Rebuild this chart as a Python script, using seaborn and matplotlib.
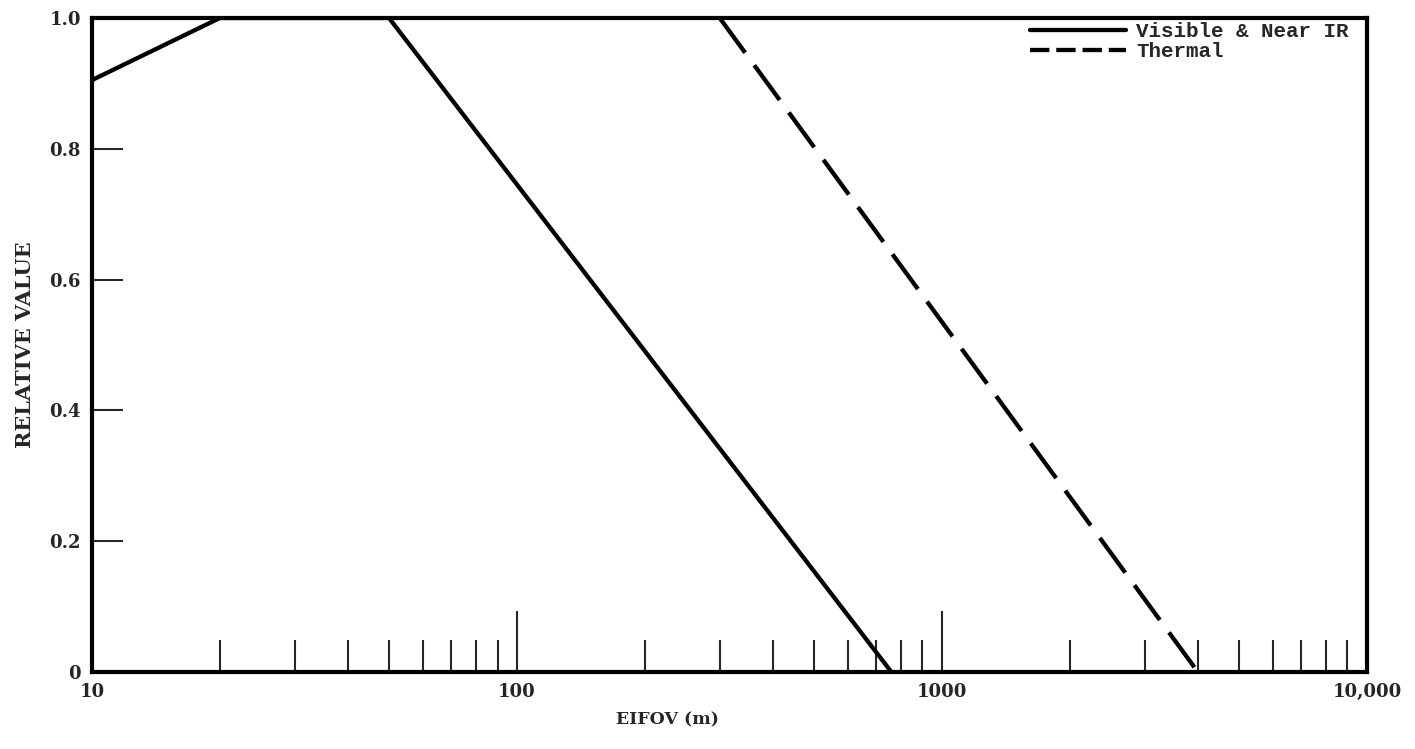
import numpy as np
import pandas as pd
import matplotlib
matplotlib.use("Agg")
import matplotlib.pyplot as plt
import seaborn as sns
from matplotlib.ticker import LogLocator, FixedLocator, NullFormatter

# Datos
vis_x = [10, 20, 50, 760]
vis_y = [0.905, 1.0, 1.0, 0.0]
th_x = [300, 4000]
th_y = [1.0, 0.0]

x_ticks = [10, 100, 1000, 10000]
x_labels = ['10', '100', '1000', '10,000']
y_ticks = [0, 0.2, 0.4, 0.6, 0.8, 1.0]
y_labels = ['0', '0.2', '0.4', '0.6', '0.8', '1.0']

sns.set_style("white")
plt.rcParams['font.family'] = ['DejaVu Serif']
plt.rcParams['font.weight'] = 'bold'

df_vis = pd.DataFrame({'x': vis_x, 'y': vis_y})
df_th = pd.DataFrame({'x': th_x, 'y': th_y})

fig = plt.figure(figsize=(14.15, 7.49), dpi=100)
ax = fig.add_axes([0.065, 0.103, 0.901, 0.873])

sns.lineplot(data=df_vis, x='x', y='y', ax=ax, color='black', linewidth=3.1,
             sort=False, label='Visible & Near IR', estimator=None)
sns.lineplot(data=df_th, x='x', y='y', ax=ax, color='black', linewidth=3.1,
             sort=False, label='Thermal', estimator=None)
ax.lines[1].set_dashes([10, 3.6])

ax.set_xscale('log')
ax.set_xlim(10, 10000)
ax.set_ylim(0, 1.0)

ax.xaxis.set_major_locator(FixedLocator(x_ticks))
ax.set_xticklabels(x_labels)
ax.xaxis.set_minor_locator(LogLocator(base=10, subs=np.arange(2, 10)))
ax.xaxis.set_minor_formatter(NullFormatter())
ax.set_yticks(y_ticks)
ax.set_yticklabels(y_labels)

ax.tick_params(axis='x', which='major', direction='in', length=44, width=1.5,
               pad=8, labelsize=13, bottom=True, top=False)
ax.tick_params(axis='x', which='minor', direction='in', length=23, width=1.5,
               bottom=True, top=False)
ax.tick_params(axis='y', which='major', direction='in', length=22, width=1.5,
               pad=8, labelsize=13, left=True, right=False)

for s in ax.spines.values():
    s.set_visible(True)
    s.set_color('black')
    s.set_linewidth(3)

ax.set_xlabel('EIFOV (m)', fontsize=12.5, fontweight='bold')
ax.xaxis.set_label_coords(0.451, -0.06)
ax.set_ylabel('RELATIVE VALUE', fontsize=15, fontweight='bold', labelpad=10)

leg = ax.legend(loc='upper right', frameon=False, handlelength=4.6,
                handletextpad=0.5, labelspacing=0.05,
                prop={'family': 'Liberation Mono', 'weight': 'bold', 'size': 15},
                borderaxespad=0.05, bbox_to_anchor=(0.993, 1.008))
leg.get_lines()[1].set_dashes([4.5, 1.6])

fig.savefig('out.png', dpi=100)
